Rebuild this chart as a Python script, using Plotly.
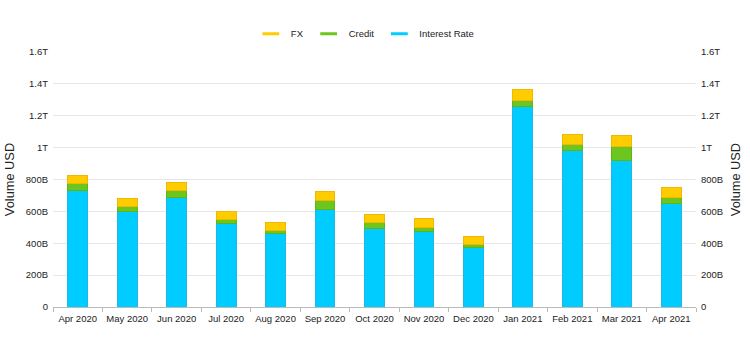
import plotly.graph_objects as go

months = ["Apr 2020", "May 2020", "Jun 2020", "Jul 2020", "Aug 2020", "Sep 2020",
          "Oct 2020", "Nov 2020", "Dec 2020", "Jan 2021", "Feb 2021", "Mar 2021", "Apr 2021"]
interest_rate = [734e9, 602e9, 690e9, 527e9, 460e9, 611e9, 494e9, 471e9, 373e9, 1257e9, 981e9, 920e9, 652e9]
credit = [40e9, 30e9, 40e9, 21e9, 21e9, 58e9, 36e9, 29e9, 18e9, 40e9, 38e9, 88e9, 36e9]
fx = [52e9, 50e9, 54e9, 52e9, 50e9, 57e9, 53e9, 55e9, 51e9, 67e9, 64e9, 65e9, 61e9]

tick_vals = [0, 200e9, 400e9, 600e9, 800e9, 1000e9, 1200e9, 1400e9, 1600e9]
tick_text = ["0", "200B", "400B", "600B", "800B", "1T", "1.2T", "1.4T", "1.6T"]

c_ir, c_ir_line = "#00CCFF", "#1FB8E6"
c_cr, c_cr_line = "#6CC61E", "#5EB51A"
c_fx, c_fx_line = "#FFCC00", "#F2B705"

fig = go.Figure()
for name, vals, col, lcol in [("Interest Rate", interest_rate, c_ir, c_ir_line),
                              ("Credit", credit, c_cr, c_cr_line),
                              ("FX", fx, c_fx, c_fx_line)]:
    fig.add_trace(go.Bar(x=months, y=vals, name=name, width=0.4,
                         marker=dict(color=col, line=dict(color=lcol, width=1)),
                         showlegend=False))

# legend entries drawn as short lines
for name, col in [("FX", c_fx), ("Credit", c_cr), ("Interest Rate", c_ir)]:
    fig.add_trace(go.Scatter(x=[None], y=[None], mode="markers", name=name,
                             marker=dict(symbol="line-ew-open", size=12, color=col,
                                         line=dict(color=col, width=3))))

# invisible trace to carry the right axis
fig.add_trace(go.Scatter(x=months, y=[None] * len(months), yaxis="y2",
                         mode="markers", showlegend=False, hoverinfo="skip"))

font_family = "Liberation Sans, Arial, sans-serif"
txt = "#222222"
axis_common = dict(range=[0, 1.6e12], tickvals=tick_vals, ticktext=tick_text,
                   tickfont=dict(size=9.5, color=txt, family=font_family),
                   title=dict(text="Volume USD", font=dict(size=12.8, color=txt, family=font_family),
                              standoff=8),
                   showline=False, zeroline=False, ticks="", fixedrange=True,
                   ticklabelstandoff=4, automargin=False)

fig.update_layout(
    barmode="stack",
    width=750, height=350,
    margin=dict(l=53, r=54, t=52, b=43, autoexpand=False),
    paper_bgcolor="white", plot_bgcolor="white",
    font=dict(family=font_family, color=txt),
    legend=dict(orientation="h", x=0.485, xanchor="center", y=1.015, yanchor="bottom",
                font=dict(size=9.5, color=txt), traceorder="normal",
                itemwidth=30, tracegroupgap=0),
    xaxis=dict(type="category", tickson="boundaries", ticks="outside", ticklen=4,
               tickcolor="#BBBBBB", showline=True, linecolor="#BBBBBB", linewidth=1,
               showgrid=False, tickfont=dict(size=9.5, color=txt), tickangle=0,
               ticklabelstandoff=3, automargin=False, range=[-0.5, len(months) - 0.5]),
    yaxis=dict(**axis_common, showgrid=True, gridcolor="#E6E6E6", gridwidth=1, side="left"),
    yaxis2=dict(**axis_common, showgrid=False, side="right", overlaying="y"),
    bargap=0.6,
)

fig.write_html("out.html")
